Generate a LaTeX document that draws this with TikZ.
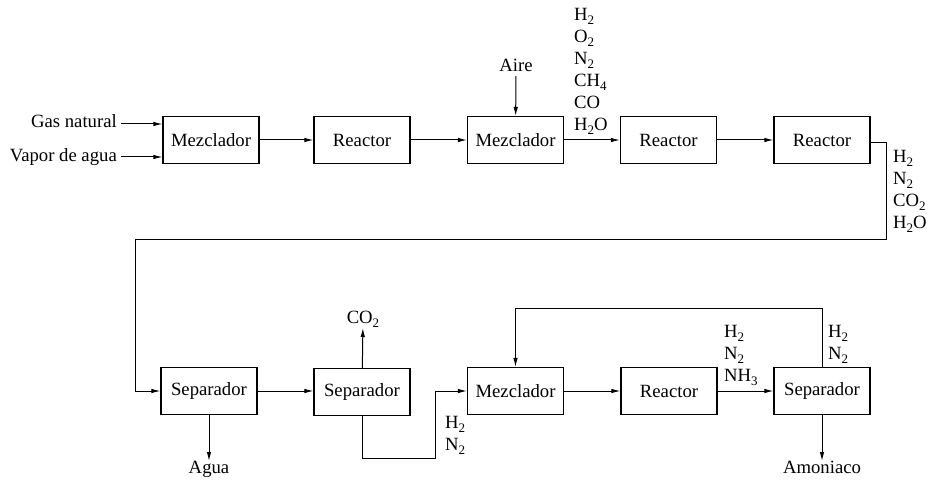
\documentclass[tikz,border=0pt]{standalone}
\usepackage{fontspec}
\setmainfont{Liberation Serif}
\usetikzlibrary{arrows.meta,positioning}

\newcommand{\low}[1]{\raisebox{-4pt}{\fontsize{13}{13}\selectfont #1}}

\tikzset{
    unit/.style={draw, line width=1.1pt, minimum width=96pt, minimum height=47pt, inner sep=0pt},
    flow/.style={line width=1pt, -{Latex[length=9pt,width=4.5pt]}},
    feed/.style={inner sep=0pt, text height=12pt, text depth=4pt},
    stream/.style={inner sep=0pt, anchor=north west, align=left}
}

\begin{document}
\begin{tikzpicture}[x=1pt, y=-1pt, font=\fontsize{18.7}{22}\selectfont]
            % Page frame
            \fill[white] (0,0) rectangle (932,484);
            \useasboundingbox (0,0) rectangle (932,484);

            % Upper line of units
            \node[unit] (mix1) at (211,140) {Mezclador};
            \node[unit] (reac1) at (362,140) {Reactor};
            \node[unit] (mix2) at (515.5,140) {Mezclador};
            \node[unit] (reac2) at (668.5,140) {Reactor};
            \node[unit] (reac3) at (822,140) {Reactor};

            % Lower line of units
            \node[unit] (sep1) at (209,391) {Separador};
            \node[unit] (sep2) at (362,392) {Separador};
            \node[unit] (mix3) at (515.5,391) {Mezclador};
            \node[unit] (reac4) at (669,391) {Reactor};
            \node[unit] (sep3) at (822,391) {Separador};

            % Feeds and products
            \node[feed, anchor=east, inner xsep=4pt] (gas) at (121,124) {Gas natural};
            \node[feed, anchor=east, inner xsep=4pt] (steam) at (121,157) {Vapor de agua};
            \node[feed, anchor=south] (air) at (516,76) {Aire};
            \node[feed, anchor=north] (water) at (209,461) {Agua};
            \node[feed, anchor=south] (co2) at (363,328) {CO\low{2}};
            \node[feed, anchor=north] (ammonia) at (822,461) {Amoniaco};

            % Stream compositions
            \node[stream] (gasmix) at (574,8) {H\low{2}\\O\low{2}\\N\low{2}\\CH\low{4}\\CO\\H\low{2}O};
            \node[stream] (shifted) at (893,150) {H\low{2}\\N\low{2}\\CO\low{2}\\H\low{2}O};
            \node[stream] (synth) at (445,416) {H\low{2}\\N\low{2}};
            \node[stream] (crude) at (724,325) {H\low{2}\\N\low{2}\\NH\low{3}};
            \node[stream] (recyc) at (828,325) {H\low{2}\\N\low{2}};

            % Turning points
            \coordinate (loop) at (886,239);
            \coordinate (drop) at (135,239);
            \coordinate (bypass) at (435,458);
            \coordinate (recycle) at (822,308);

            % Connectors
            \draw[flow] (gas.east) -- (gas.east -| mix1.west);
            \draw[flow] (steam.east) -- (steam.east -| mix1.west);
            \draw[flow] (mix1) -- (reac1);
            \draw[flow] (reac1) -- (mix2);
            \draw[flow] (air) -- (mix2);
            \draw[flow] (mix2) -- (reac2);
            \draw[flow] (reac2) -- (reac3);
            \draw[flow] ([yshift=-3pt]reac3.east) -| (loop) -- (drop) |- (sep1.west);
            \draw[flow] (sep1) -- (water);
            \draw[flow] (sep1) -- (sep1 -| sep2.west);
            \draw[flow] (sep2) -- (co2);
            \draw[flow] (sep2.south) |- (bypass) |- (mix3.west);
            \draw[flow] (mix3) -- (reac4);
            \draw[flow] (reac4) -- (sep3);
            \draw[flow] (sep3.north) -- (recycle) -| (mix3.north);
            \draw[flow] (sep3) -- (ammonia);
        \end{tikzpicture}
\end{document}
